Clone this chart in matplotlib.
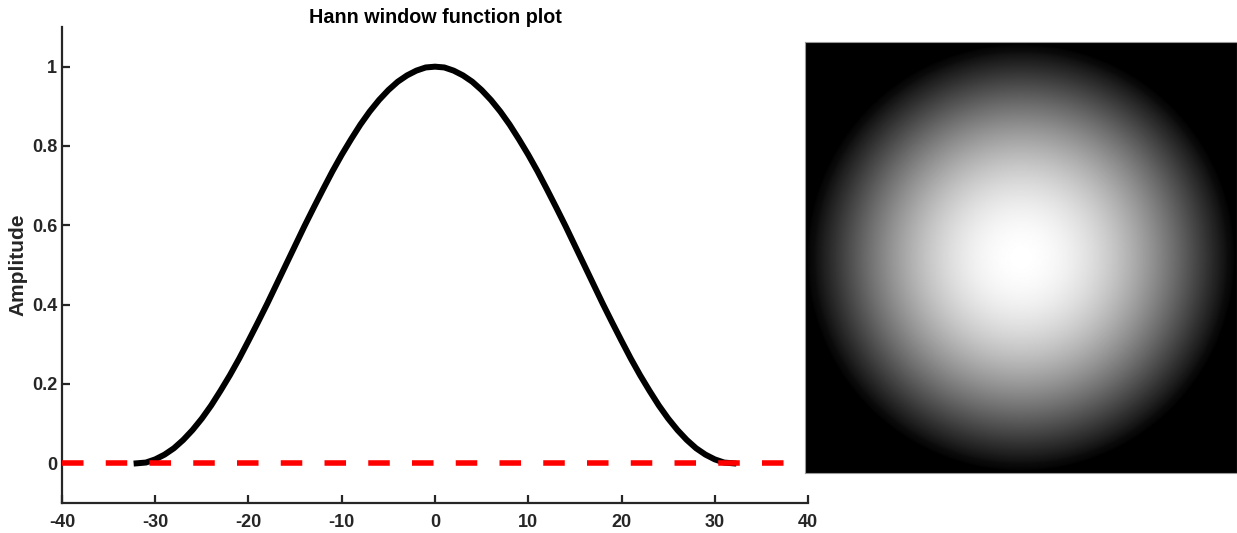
import numpy as np
import matplotlib
matplotlib.use("Agg")
import matplotlib.pyplot as plt

plt.rcParams["font.family"] = ["Liberation Sans", "DejaVu Sans"]
plt.rcParams["font.weight"] = "bold"
plt.rcParams["lines.scale_dashes"] = False

# Hann window samples, x = -32 .. 32
positions = np.arange(-32, 33)
amplitude = [
    0.000, 0.002, 0.010, 0.022, 0.038, 0.059, 0.084, 0.113,
    0.146, 0.183, 0.222, 0.264, 0.309, 0.355, 0.402, 0.451,
    0.500, 0.549, 0.598, 0.645, 0.691, 0.736, 0.778, 0.817,
    0.854, 0.887, 0.916, 0.941, 0.962, 0.978, 0.990, 0.998,
    1.000,
    0.998, 0.990, 0.978, 0.962, 0.941, 0.916, 0.887, 0.854,
    0.817, 0.778, 0.736, 0.691, 0.645, 0.598, 0.549, 0.500,
    0.451, 0.402, 0.355, 0.309, 0.264, 0.222, 0.183, 0.146,
    0.113, 0.084, 0.059, 0.038, 0.022, 0.010, 0.002, 0.000,
]
baseline_x = [-40, 40]
baseline_y = [0, 0]

x_ticks = [-40, -30, -20, -10, 0, 10, 20, 30, 40]
y_ticks = [0, 0.2, 0.4, 0.6, 0.8, 1]
y_ticklabels = ["0", "0.2", "0.4", "0.6", "0.8", "1"]

fig = plt.figure(figsize=(12.37, 5.33), dpi=100)

# left: 1D window
ax = fig.add_axes([62 / 1237, 30 / 533, 746 / 1237, 476 / 533])
ax.plot(positions, amplitude, color="black", linewidth=4.3, zorder=2)
ax.plot(baseline_x, baseline_y, color="red", linewidth=4.0,
        dashes=(15.5, 16.0), dash_capstyle="butt", zorder=3)
ax.set_xlim(-40, 40)
ax.set_ylim(-0.1, 1.1)
ax.set_xticks(x_ticks)
ax.set_xticklabels([str(t) for t in x_ticks])
ax.set_yticks(y_ticks)
ax.set_yticklabels(y_ticklabels)
for side in ["top", "right"]:
    ax.spines[side].set_visible(False)
for side in ["left", "bottom"]:
    ax.spines[side].set_linewidth(1.6)
    ax.spines[side].set_color("#262626")
ax.tick_params(axis="both", direction="in", length=6, width=1.6,
               color="#262626", labelsize=13, labelcolor="#262626")
ax.tick_params(axis="x", pad=8)
ax.tick_params(axis="y", pad=3.5)
ax.set_ylabel("Amplitude", fontsize=15, fontweight="bold", color="#262626", labelpad=3)
ax.set_title("Hann window function plot", fontsize=14.2, fontweight="bold", pad=3)

# right: 2D radial window built from the same profile
half = 32.3
grid = np.linspace(-half, half, 501)
gx, gy = np.meshgrid(grid, grid)
radius = np.sqrt(gx ** 2 + gy ** 2)
img = np.sqrt(np.interp(radius, positions[32:], amplitude[32:], right=0.0))

ax2 = fig.add_axes([805 / 1237, 60 / 533, 432 / 1237, 431 / 533])
ax2.imshow(img, cmap="gray", vmin=0, vmax=1, extent=[-half, half, -half, half],
           interpolation="bilinear", aspect="auto")
ax2.set_xticks([])
ax2.set_yticks([])
for s in ax2.spines.values():
    s.set_color("#999999")
    s.set_linewidth(0.8)

fig.savefig("out.png", dpi=100)
